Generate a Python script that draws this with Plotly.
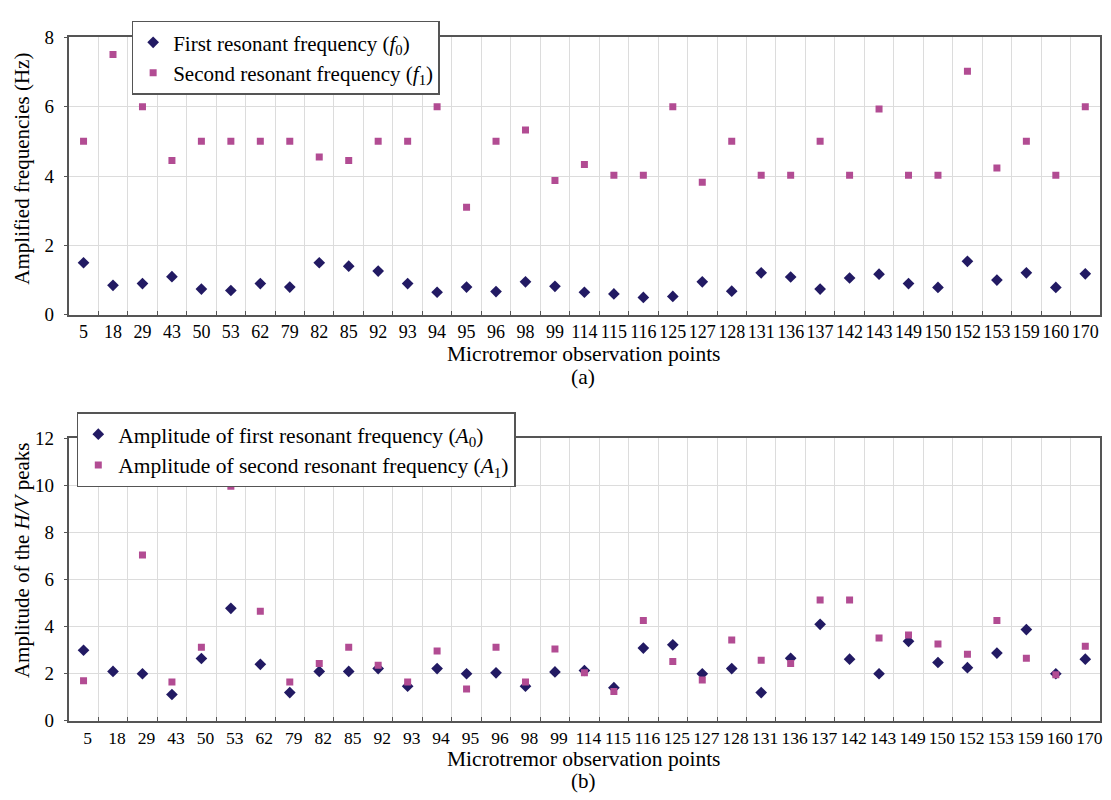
import plotly.graph_objects as go

# Microtremor observation points (category axis)
points = ["5", "18", "29", "43", "50", "53", "62", "79", "82", "85",
          "92", "93", "94", "95", "96", "98", "99", "114", "115", "116",
          "125", "127", "128", "131", "136", "137", "142", "143", "149", "150",
          "152", "153", "159", "160", "170"]

# First and second resonant frequencies (Hz)
f0 = [1.5, 0.85, 0.9, 1.1, 0.74, 0.7, 0.9, 0.8, 1.5, 1.4,
      1.26, 0.9, 0.65, 0.8, 0.67, 0.95, 0.82, 0.65, 0.6, 0.5,
      0.53, 0.95, 0.68, 1.21, 1.09, 0.74, 1.06, 1.17, 0.9, 0.79,
      1.54, 1.0, 1.21, 0.79, 1.18]
f1 = [5.0, 7.5, 6.0, 4.45, 5.0, 5.0, 5.0, 5.0, 4.55, 4.45,
      5.0, 5.0, 6.0, 3.1, 5.0, 5.33, 3.87, 4.33, 4.02, 4.02,
      6.0, 3.82, 5.0, 4.02, 4.02, 5.0, 4.02, 5.93, 4.02, 4.02,
      7.02, 4.23, 5.0, 4.02, 6.0]

# Amplitudes of the H/V peaks
a0 = [3.0, 2.1, 2.0, 1.12, 2.65, 4.78, 2.4, 1.2, 2.1, 2.1,
      2.22, 1.47, 2.22, 2.0, 2.04, 1.47, 2.08, 2.14, 1.41, 3.09,
      3.23, 2.0, 2.22, 1.2, 2.66, 4.1, 2.62, 2.0, 3.38, 2.48,
      2.26, 2.88, 3.88, 2.0, 2.62]
a1 = [1.7, None, 7.05, 1.65, 3.13, 9.97, 4.66, 1.65, 2.44, 3.13,
      2.36, 1.65, 2.97, 1.35, 3.13, 1.65, 3.05, 2.04, 1.25, 4.26,
      2.52, 1.74, 3.43, 2.57, 2.44, 5.14, 5.14, 3.52, 3.65, 3.27,
      2.83, 4.26, 2.66, 1.96, 3.17]

NAVY = "#221a63"
MAGENTA = "#b24c93"
SERIF = "Liberation Serif"
W, H = 1111, 800

fig = go.Figure()

fig.add_trace(go.Scatter(
    x=points, y=f0, mode="markers", name="First resonant frequency (<i>f</i><sub>0</sub>)",
    marker=dict(symbol="diamond", size=9, color=NAVY), xaxis="x", yaxis="y", legend="legend"))
fig.add_trace(go.Scatter(
    x=points, y=f1, mode="markers", name="Second resonant frequency (<i>f</i><sub>1</sub>)",
    marker=dict(symbol="square", size=7, color=MAGENTA), xaxis="x", yaxis="y", legend="legend"))

fig.add_trace(go.Scatter(
    x=points, y=a0, mode="markers", name="Amplitude of first resonant frequency (<i>A</i><sub>0</sub>)",
    marker=dict(symbol="diamond", size=9, color=NAVY), xaxis="x2", yaxis="y2", legend="legend2"))
fig.add_trace(go.Scatter(
    x=points, y=a1, mode="markers", name="Amplitude of second resonant frequency (<i>A</i><sub>1</sub>)",
    marker=dict(symbol="square", size=7, color=MAGENTA), xaxis="x2", yaxis="y2", legend="legend2"))

xdom = [69 / W, 1103 / W]
top_dom = [1 - 313 / H, 1 - 28 / H]
bot_dom = [1 - 730 / H, 1 - 440 / H]

common_x = dict(
    type="category", categoryorder="array", categoryarray=points,
    range=[-0.5, len(points) - 0.5], tickson="boundaries", tickangle=0,
    ticks="inside", ticklen=4, tickcolor="#555", tickwidth=1,
    showgrid=True, gridcolor="#dcdcdc", gridwidth=1,
    showline=True, linecolor="#555", linewidth=2, mirror=True,
    zeroline=False, fixedrange=True,
)
common_y = dict(
    ticks="outside", ticklen=3, tickcolor="#555", ticklabelstandoff=6,
    showgrid=True, gridcolor="#dcdcdc", gridwidth=1,
    showline=True, linecolor="#555", linewidth=2, mirror=True,
    tickfont=dict(family=SERIF, size=19, color="black"),
    zeroline=False, fixedrange=True,
)

fig.update_layout(
    width=W, height=H, autosize=False,
    margin=dict(l=0, r=0, t=0, b=0),
    paper_bgcolor="white", plot_bgcolor="white",
    font=dict(family=SERIF, size=19, color="black"),
    xaxis=dict(domain=xdom, anchor="y", tickfont=dict(family=SERIF, size=18, color="black"), **common_x),
    yaxis=dict(domain=top_dom, anchor="x", range=[0, 8], tickvals=[0, 2, 4, 6, 8], **common_y),
    xaxis2=dict(domain=xdom, anchor="y2", ticklabelshift=4,
                tickfont=dict(family=SERIF, size=17.5, color="black"), **common_x),
    yaxis2=dict(domain=bot_dom, anchor="x2", range=[0, 12], tickvals=[0, 2, 4, 6, 8, 10, 12], **common_y),
    legend=dict(
        x=132 / W, y=1 - 11 / H, xanchor="left", yanchor="top",
        bgcolor="white", bordercolor="#555", borderwidth=1.5,
        font=dict(family=SERIF, size=21, color="black"),
        itemwidth=30, tracegroupgap=0,
    ),
    legend2=dict(
        x=77 / W, y=1 - 413 / H, xanchor="left", yanchor="top",
        bgcolor="white", bordercolor="#555", borderwidth=1.5,
        font=dict(family=SERIF, size=21.5, color="black"),
        itemwidth=30, tracegroupgap=0,
    ),
    showlegend=True,
)

ann = dict(showarrow=False, xref="paper", yref="paper")
title_font = dict(family=SERIF, size=21, color="black")
xt_font = dict(family=SERIF, size=21.5, color="black")
fig.add_annotation(text="Amplified frequencies (Hz)", x=22 / W, y=1 - 163 / H, textangle=-90,
                   xanchor="center", yanchor="middle", font=title_font, **ann)
fig.add_annotation(text="Microtremor observation points", x=585 / W, y=1 - 353 / H,
                   xanchor="center", yanchor="middle", font=xt_font, **ann)
fig.add_annotation(text="(a)", x=585 / W, y=1 - 377 / H, xanchor="center", yanchor="middle",
                   font=xt_font, **ann)
fig.add_annotation(text="Amplitude of the <i>H/V</i> peaks", x=22 / W, y=1 - 565 / H, textangle=-90,
                   xanchor="center", yanchor="middle", font=title_font, **ann)
fig.add_annotation(text="Microtremor observation points", x=585 / W, y=1 - 769 / H,
                   xanchor="center", yanchor="middle", font=xt_font, **ann)
fig.add_annotation(text="(b)", x=585 / W, y=1 - 792 / H, xanchor="center", yanchor="middle",
                   font=dict(family=SERIF, size=21, color="black"), **ann)

fig.write_html("out.html")
